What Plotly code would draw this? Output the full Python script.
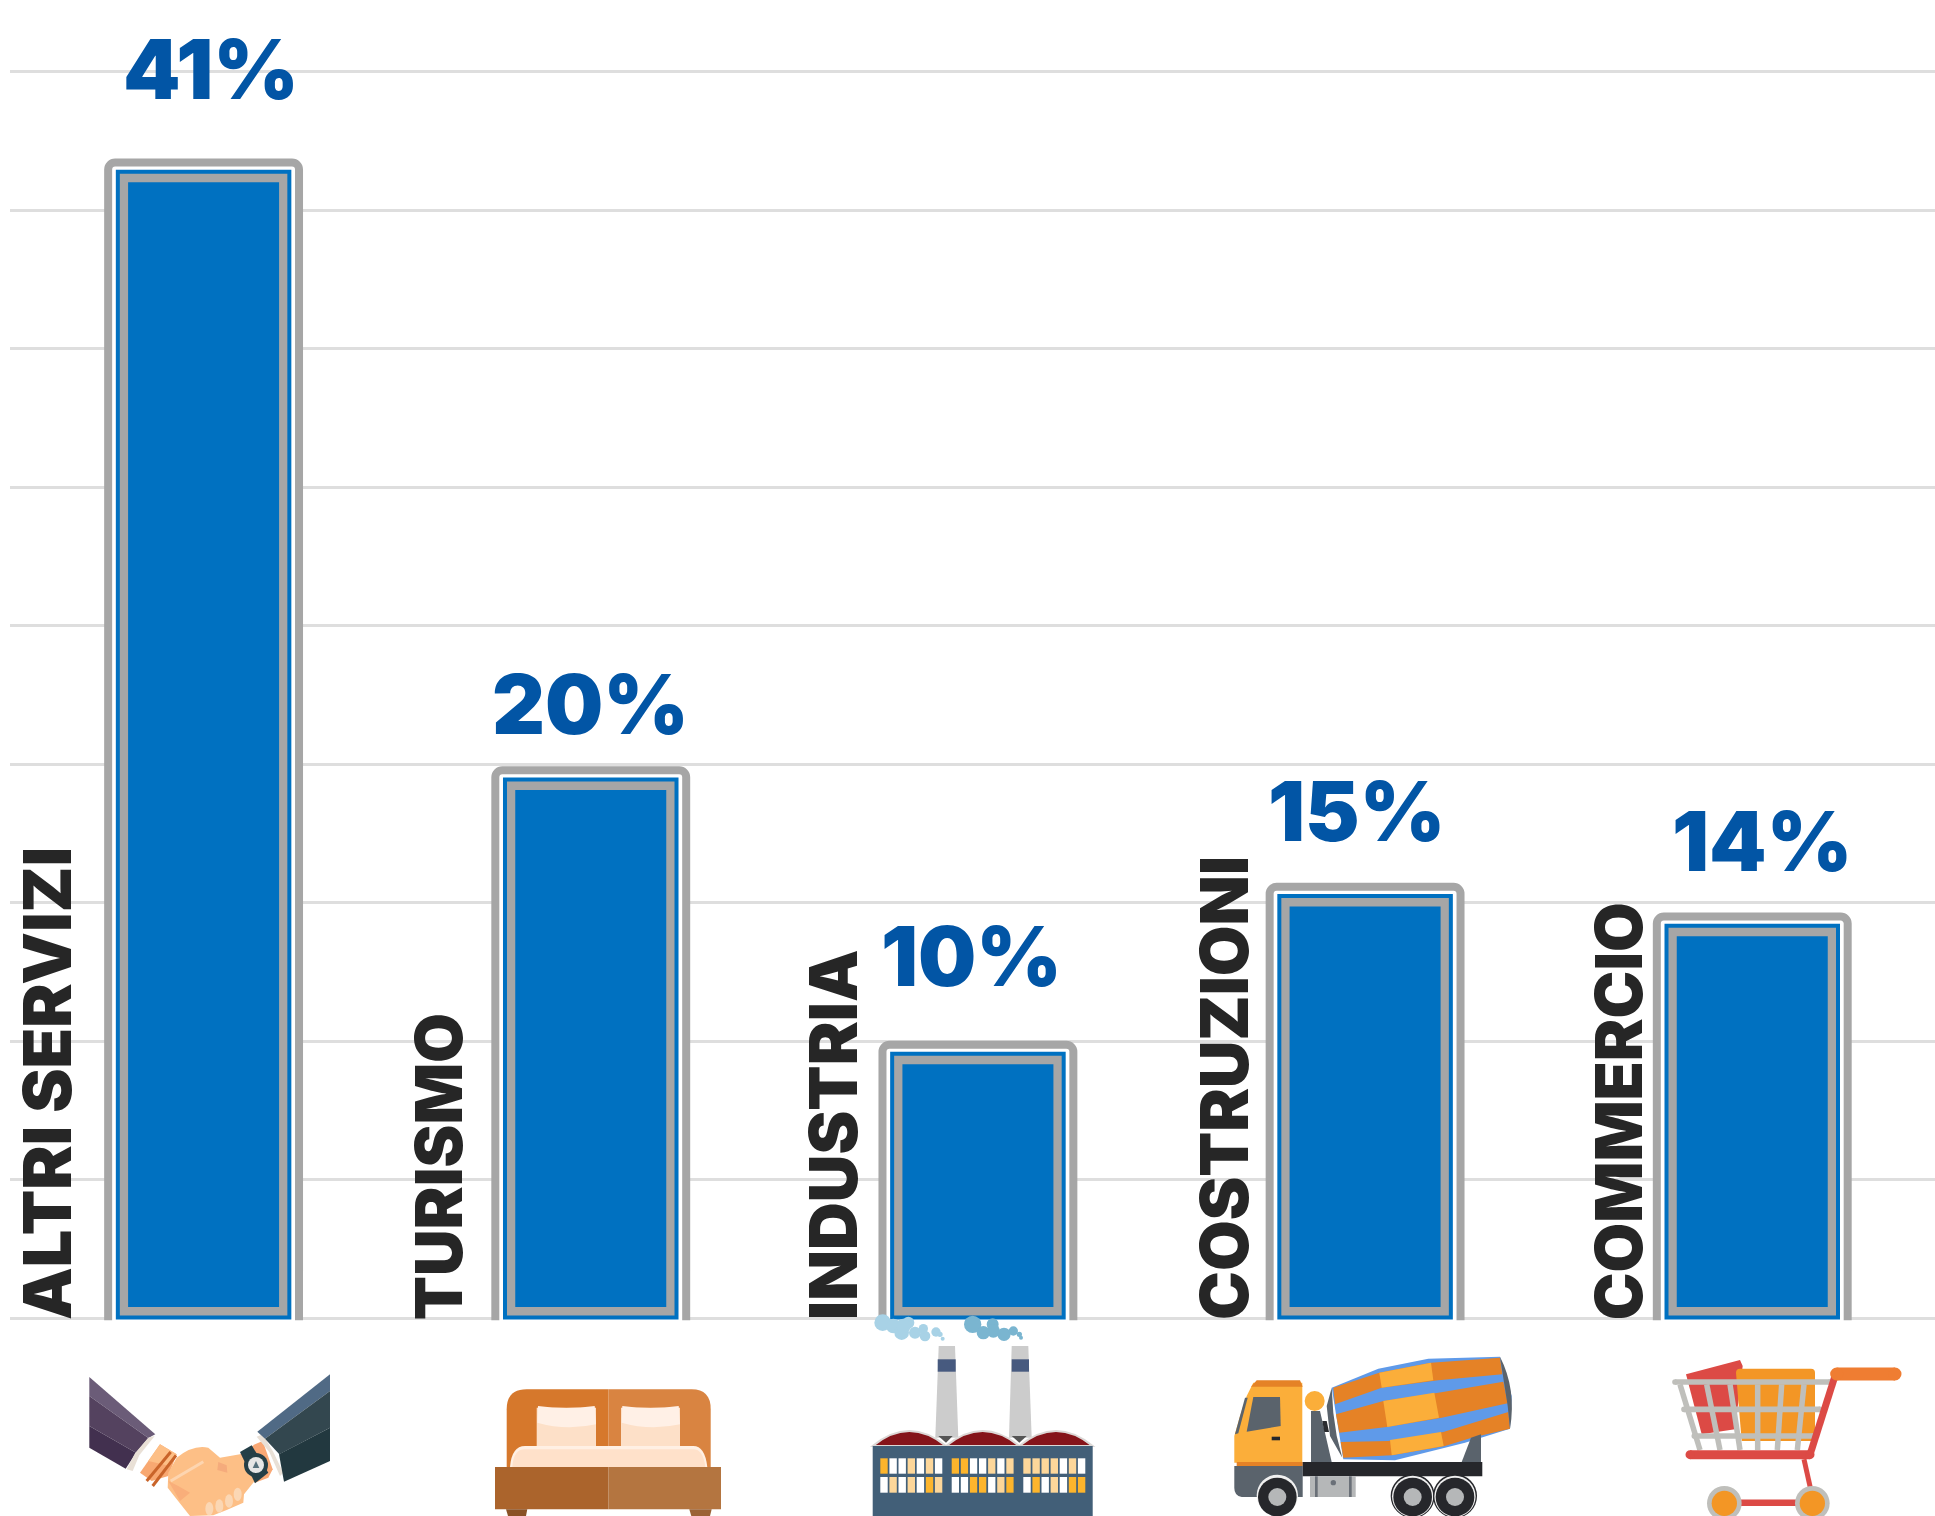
import plotly.graph_objects as go

# ---------- data ----------
categories = ["ALTRI SERVIZI", "TURISMO", "INDUSTRIA", "COSTRUZIONI", "COMMERCIO"]
bar_values = [41.73, 19.78, 9.87, 15.57, 14.50]
percent_labels = ["41%", "20%", "10%", "15%", "14%"]
grid_ticks = [0, 5, 10, 15, 20, 25, 30, 35, 40, 45]

# ---------- label placement (pixels relative to bar) ----------
pct_dx = [7, 0, -6, -9, 10]
pct_dy = [93, 66, 88, 75, 75]
cat_dx = [-157, -152, -145, -141, -134]
cat_size = [66.5, 64.5, 66, 65.5, 64]

BLUE, GRAY, PCT, INK = "#0071c1", "#a6a6a6", "#0255a5", "#262626"
FONT = "Inter"

W, H = 1935, 1516
BASE_Y = 1318
PX_PER_UNIT = 27.69
Y_FLOOR = -0.08   # keeps the zero line just inside the plot area
fig = go.Figure()

fig.add_bar(x=categories, y=[v + 2 for v in bar_values], base=-2, width=0.493,
            marker=dict(color="white", line=dict(color=GRAY, width=8), cornerradius=7),
            hoverinfo="skip", showlegend=False)
fig.add_bar(x=categories, y=[v - 0.35 for v in bar_values], base=0.02, width=0.443,
            marker=dict(color=GRAY, line=dict(color=BLUE, width=4)),
            hoverinfo="skip", showlegend=False)
fig.add_bar(x=categories, y=[v - 0.71 - 0.4 for v in bar_values], base=0.4, width=0.39,
            marker=dict(color=BLUE, line=dict(width=0)),
            hoverinfo="skip", showlegend=False)
# keeps the pixel-space overlay axes alive for the pictograms
fig.add_scatter(x=[None], y=[None], xaxis="x2", yaxis="y2", hoverinfo="skip", showlegend=False)

ann = []
for c, v, t, dx, dy, cdx, cs in zip(categories, bar_values, percent_labels, pct_dx, pct_dy, cat_dx, cat_size):
    ann.append(dict(x=c, y=v, xref="x", yref="y", text=t, showarrow=False, xshift=dx, yshift=dy,
                    xanchor="center", yanchor="middle",
                    font=dict(family=FONT, size=82, color=PCT, weight=900)))
    ann.append(dict(x=c, y=0, xref="x", yref="y", text=c, showarrow=False, textangle=-90, xshift=cdx,
                    yshift=-3, xanchor="center", yanchor="bottom", borderpad=0,
                    font=dict(family=FONT, size=cs, color=INK, weight=900)))

# ---------- pictograms (drawn in page-pixel space) ----------
shapes = []
def poly(o, pts, fill, line=None, lw=0):
    d = "M" + " L".join(f"{o[0]+x/3:.1f},{o[1]+y/3:.1f}" for x, y in pts) + " Z"
    shapes.append(dict(type="path", xref="x2", yref="y2", path=d, fillcolor=fill, layer="above",
                       line=dict(width=lw, color=line or fill)))
def curve(o, cmds, fill, line=None, lw=0):
    parts = []
    for c in cmds:
        vals = c[1:]
        pp = " ".join(f"{o[0]+vals[i]/3:.1f},{o[1]+vals[i+1]/3:.1f}" for i in range(0, len(vals), 2))
        parts.append(c[0] + pp)
    shapes.append(dict(type="path", xref="x2", yref="y2", path=" ".join(parts) + " Z", fillcolor=fill,
                       layer="above", line=dict(width=lw, color=line or fill)))
def rect(o, x0, y0, x1, y1, fill):
    poly(o, [(x0, y0), (x1, y0), (x1, y1), (x0, y1)], fill)
def seg(o, x0, y0, x1, y1, color, w):
    shapes.append(dict(type="line", xref="x2", yref="y2", layer="above",
                       x0=o[0]+x0/3, y0=o[1]+y0/3, x1=o[0]+x1/3, y1=o[1]+y1/3,
                       line=dict(color=color, width=w)))
def circ(o, cx, cy, rx, fill, ry=None):
    ry = ry or rx
    shapes.append(dict(type="circle", xref="x2", yref="y2", layer="above",
                       x0=o[0]+(cx-rx)/3, y0=o[1]+(cy-ry)/3, x1=o[0]+(cx+rx)/3, y1=o[1]+(cy+ry)/3,
                       fillcolor=fill, line=dict(width=0)))
def pill(o, x0, x1, y, h, fill):
    rect(o, x0, y-h/2, x1, y+h/2, fill)
    circ(o, x0, y, h/2, fill)
    circ(o, x1, y, h/2, fill)

# handshake
o = (80, 1366)
poly(o, [(28,33),(226,205),(205,216),(28,90)], "#6b5c78")
poly(o, [(28,90),(205,216),(168,260),(28,180)], "#54425f")
poly(o, [(28,180),(168,260),(137,308),(28,245)], "#42304f")
poly(o, [(205,215),(224,210),(178,268),(158,315),(140,310),(165,262)], "#e9e0d6")
poly(o, [(240,235),(180,320),(215,345),(265,330),(290,265)], "#f8a871")
poly(o, [(240,235),(290,265),(260,298),(205,285)], "#fdbf86")
seg(o, 272,258,200,345, "#c9642a", 3)
seg(o, 288,268,218,360, "#c9642a", 3)
poly(o, [(480,265),(525,235),(548,225),(578,310),(565,335),(525,350)], "#f9a875")
curve(o, [("M",265,320),("L",290,275),("Q",340,235,385,245),("L",420,275),("L",480,265),("L",528,340),
          ("L",492,385),("L",490,410),("L",440,432),("L",400,448),("L",330,450),("L",290,400),("L",263,365)], "#fdbf86")
seg(o, 272,345,370,287, "#fdd5b0", 3)
poly(o, [(415,288),(440,298),(442,320),(412,312)], "#f5ab7c")
poly(o, [(265,345),(300,405),(330,380),(295,360)], "#f9ae7a")
for fx, fy in [(388,428),(418,420),(447,405),(473,385)]:
    circ(o, fx, fy, 12, "#fbd7b4", ry=20)
poly(o, [(480,258),(515,238),(565,320),(525,352)], "#253f47")
circ(o, 528, 297, 36, "#253f47")
circ(o, 528, 297, 24, "#e6e6e6")
poly(o, [(528,285),(538,306),(518,306)], "#56707c")
poly(o, [(530,212),(548,205),(580,258),(610,320),(600,330),(568,258)], "#e9e0d6")
poly(o, [(750,25),(750,75),(555,218),(532,197)], "#506a85")
poly(o, [(750,75),(750,185),(598,265),(555,218)], "#33474f")
poly(o, [(750,185),(750,285),(612,347),(597,265)], "#22383f")

# bed
o = (480, 1366)
curve(o, [("M",80,303),("L",80,130),("Q",80,70,140,70),("L",385,70),("L",385,303)], "#d6782c")
curve(o, [("M",385,70),("L",635,70),("Q",692,70,692,130),("L",692,303),("L",385,303)], "#d98441")
for x0, x1 in [(170,348),(423,600)]:
    rect(o, x0, 125, x1, 245, "#fde0c8")
    curve(o, [("M",x0+4,120),("Q",(x0+x1)/2,132,x1-4,120),("L",x1,175),("Q",(x0+x1)/2,195,x0+2,170)], "#fff0e6")
curve(o, [("M",90,303),("Q",95,240,135,240),("L",640,240),("Q",675,240,682,303)], "#fff0e4")
curve(o, [("M",97,303),("Q",100,250,135,250),("L",640,250),("Q",670,250,676,303)], "#ffe1ca")
rect(o, 45, 303, 385, 430, "#ab642c")
rect(o, 385, 303, 723, 430, "#b47540")
poly(o, [(78,430),(142,430),(138,450),(84,450)], "#8a5226")
poly(o, [(628,430),(695,430),(690,450),(634,450)], "#9b6235")

# factory
o = (860, 1306)
for c in [(68,50,25),(100,60,22),(125,80,22),(145,50,18),(130,60,22),(165,80,18),(195,90,16),
          (190,68,14),(228,78,14),(240,85,8),(248,98,6)]:
    circ(o, c[0], c[1], c[2], "#a8d2e6")
for c in [(338,55,26),(370,80,20),(398,55,18),(400,75,20),(432,85,20),(460,75,14),(478,85,8),(483,95,6)]:
    circ(o, c[0], c[1], c[2], "#7ab5d0")
poly(o, [(236,120),(285,120),(295,395),(226,395)], "#cccccc")
rect(o, 233, 160, 287, 197, "#475a7f")
poly(o, [(455,120),(505,120),(515,395),(447,395)], "#cccccc")
rect(o, 455, 160, 507, 197, "#475a7f")
for x0 in (38, 258, 478):
    curve(o, [("M",x0,420),("Q",x0+110,330,x0+220,420)], "#85141a", "#dcd8d6", 2)
poly(o, [(235,390),(278,390),(258,410)], "#555555")
poly(o, [(455,390),(500,390),(478,410)], "#555555")
rect(o, 38, 420, 698, 630, "#425f78")
WIN = {"o": "#fdb52c", "w": "#ffffff", "l": "#fdd79a"}
win_groups = [(61, "owwlwlw", "wlwlwol"), (275, "oowwlwl", "wwoowlo"), (490, "llllwlw", "wowlwoo")]
for x0, r1, r2 in win_groups:
    for i, (a, b) in enumerate(zip(r1, r2)):
        rect(o, x0+i*27.3, 457, x0+i*27.3+22, 503, WIN[a])
        rect(o, x0+i*27.3, 513, x0+i*27.3+22, 560, WIN[b])

# truck
o = (1225, 1346)
Y, OR, SL, BK = "#fbae3a", "#e58226", "#5a636c", "#26272b"
poly(o, [(320,125),(460,68),(610,38),(825,32),(860,150),(855,248),(720,290),(510,343),(355,340)], "#5f9ae9")
poly(o, [(325,125),(463,80),(618,50),(825,35),(832,85),(640,103),(470,125),(330,175)], OR)
poly(o, [(333,205),(475,165),(640,140),(835,107),(848,172),(650,215),(485,243),(343,260)], OR)
poly(o, [(347,288),(490,285),(655,258),(850,198),(855,248),(740,275),(660,300),(500,328),(355,335)], OR)
poly(o, [(463,80),(618,50),(625,103),(470,125)], Y)
poly(o, [(475,165),(628,140),(642,215),(487,243)], Y)
poly(o, [(495,282),(648,258),(656,300),(500,328)], Y)
curve(o, [("M",825,32),("Q",875,130,855,248),("L",848,180)], SL)
poly(o, [(320,125),(305,180),(315,270),(352,335),(335,270),(325,200)], SL)
poly(o, [(710,348),(738,275),(768,265),(768,348)], SL)
poly(o, [(258,195),(285,195),(320,348),(258,348)], SL)
poly(o, [(292,225),(305,225),(312,258),(298,258)], "#2a2c30")
circ(o, 269, 165, 30, Y)
poly(o, [(65,150),(85,110),(232,110),(232,350),(28,350),(28,270),(45,210)], Y)
poly(o, [(78,122),(95,103),(225,103),(233,122)], OR)
poly(o, [(85,153),(165,153),(167,240),(65,257)], SL)
poly(o, [(60,155),(68,155),(40,262),(30,265)], SL)
rect(o, 140, 272, 165, 283, BK)
rect(o, 35, 348, 233, 360, OR)
curve(o, [("M",28,360),("L",233,360),("L",233,453),("L",50,453),("Q",28,450,28,425)], SL)
rect(o, 233, 348, 772, 391, BK)
rect(o, 255, 391, 392, 453, "#b5b7b8")
rect(o, 270, 391, 278, 453, "#6a7078")
rect(o, 372, 391, 380, 453, "#6a7078")
circ(o, 325, 410, 8, "#6a7078")
circ(o, 157, 448, 62, "#f0f0f0")
for cx in (563, 690):
    circ(o, cx, 450, 66, BK)
    circ(o, cx, 451, 62, "#f0f0f0")
for cx in (157, 563, 690):
    circ(o, cx, 453, 58, BK)
    circ(o, cx, 453, 27, "#b5b7b8")

# cart
o = (1660, 1346)
CG, CR, CO = "#bfbfbb", "#dc4a45", "#f39625"
poly(o, [(78,85),(240,42),(248,60),(225,250),(125,265)], CR)
curve(o, [("M",228,80),("Q",228,68,240,68),("L",453,68),("Q",465,68,465,80),("L",465,285),("L",245,285)], CO)
pill(o, 45, 510, 108, 17, CG)
pill(o, 72, 480, 190, 17, CG)
pill(o, 103, 460, 270, 17, CG)
for x0, x1 in [(60,120),(140,180),(210,240),(293,293),(365,352),(432,412)]:
    seg(o, x0, 115, x1, 312, CG, 5.5)
pill(o, 90, 450, 326, 27, CR)
seg(o, 450, 326, 525, 90, CR, 7)
seg(o, 432, 340, 452, 430, CR, 5)
seg(o, 190, 470, 455, 470, CR, 6.5)
pill(o, 530, 705, 84, 39, "#ef7d32")
for cx in (193, 457):
    circ(o, cx, 472, 52, CG)
    circ(o, cx, 472, 38, CO)

fig.update_layout(
    width=W, height=H, margin=dict(l=0, r=0, t=0, b=0), autosize=False,
    paper_bgcolor="white", plot_bgcolor="rgba(0,0,0,0)", barmode="overlay", showlegend=False,
    xaxis=dict(domain=[10/W, 1], type="category", categoryorder="array", categoryarray=categories,
               range=[-0.5, 4.472], showgrid=False, showticklabels=False, ticks="", showline=False,
               zeroline=False, fixedrange=True),
    yaxis=dict(domain=[(H-BASE_Y+Y_FLOOR*PX_PER_UNIT)/H, 1], range=[Y_FLOOR, BASE_Y/PX_PER_UNIT],
               tickmode="array", tickvals=grid_ticks,
               showticklabels=False, ticks="", showgrid=True, gridcolor="#dedede", gridwidth=3,
               zeroline=True, zerolinecolor="#dedede", zerolinewidth=3, showline=False, fixedrange=True),
    xaxis2=dict(domain=[0, 1], range=[0, W], anchor="y2", visible=False, fixedrange=True),
    yaxis2=dict(domain=[0, 1], range=[H, 0], anchor="x2", visible=False, fixedrange=True),
    annotations=ann, shapes=shapes,
)
fig.write_html("out.html", config=dict(displayModeBar=False),
               post_script="document.body.style.margin='0';document.body.style.overflow='hidden';")
